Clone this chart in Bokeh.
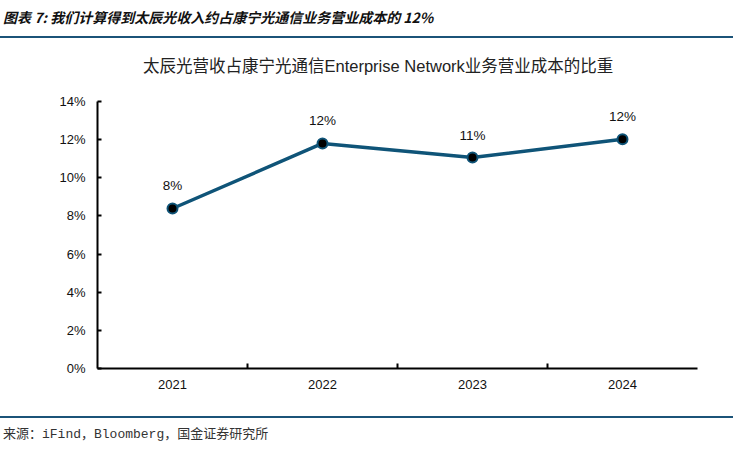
from bokeh.plotting import figure
from bokeh.models import (ColumnDataSource, LabelSet, FixedTicker, NumeralTickFormatter,
                          Range1d, Div)
from bokeh.core.properties import value
from bokeh.layouts import column
from bokeh.embed import file_html
from bokeh.resources import INLINE

years = ["2021", "2022", "2023", "2024"]
share = [0.0839, 0.1180, 0.1106, 0.1202]
share_labels = ["8%", "12%", "11%", "12%"]
y_ticks = [0, 0.02, 0.04, 0.06, 0.08, 0.10, 0.12, 0.14]

header_text = "图表 7: 我们计算得到太辰光收入约占康宁光通信业务营业成本的 12%"
chart_title = "太辰光营收占康宁光通信Enterprise Network业务营业成本的比重"
source_text = "来源：iFind，Bloomberg，国金证券研究所"

LINE_COLOR = "#0F5478"
RULE_COLOR = "#1B5378"
W = 733

xpos = [i + 0.5 for i in range(len(years))]
src = ColumnDataSource(dict(x=xpos, y=share, lab=share_labels))

p = figure(width=W, height=336, output_backend="svg", toolbar_location=None,
           x_range=Range1d(0, len(years)), y_range=Range1d(0, 0.14),
           min_border_left=97, min_border_right=36, min_border_top=21,
           min_border_bottom=48, frame_width=600, frame_height=267)
p.outline_line_color = None
p.background_fill_color = "white"
p.border_fill_color = "white"
p.xgrid.grid_line_color = None
p.ygrid.grid_line_color = None

p.line("x", "y", source=src, line_color=LINE_COLOR, line_width=3.5)
p.scatter("x", "y", source=src, size=10, fill_color="black",
          line_color=LINE_COLOR, line_width=2)
p.add_layout(LabelSet(x="x", y="y", text="lab", source=src, y_offset=15,
                      text_align="center", text_baseline="bottom",
                      text_font_size=value("13.5px"), text_font=value("Liberation Sans"),
                      text_color=value("#111111")))

# x axis: labels at category centres, ticks at boundaries
p.xaxis.ticker = FixedTicker(ticks=xpos, minor_ticks=list(range(1, len(years))))
p.xaxis.major_label_overrides = {x: y for x, y in zip(xpos, years)}
p.xaxis.major_tick_line_color = None
p.xaxis.minor_tick_in = 5
p.xaxis.minor_tick_out = 0
p.xaxis.minor_tick_line_color = "black"
p.xaxis.minor_tick_line_width = 2
p.xaxis.axis_line_width = 2
p.xaxis.axis_line_color = "black"
p.xaxis.major_label_standoff = 5
p.xaxis.major_label_text_font = "Liberation Sans"
p.xaxis.major_label_text_font_size = "13px"
p.xaxis.major_label_text_color = "#111111"

p.yaxis.ticker = FixedTicker(ticks=y_ticks, minor_ticks=[])
p.yaxis.formatter = NumeralTickFormatter(format="0%")
p.yaxis.major_tick_in = 4
p.yaxis.major_tick_out = 0
p.yaxis.major_tick_line_width = 2
p.yaxis.major_tick_line_color = "black"
p.yaxis.axis_line_width = 2
p.yaxis.axis_line_color = "black"
p.yaxis.major_label_standoff = 12
p.yaxis.major_label_text_font = "Liberation Sans"
p.yaxis.major_label_text_font_size = "13px"
p.yaxis.major_label_text_color = "#111111"

header = Div(text=(
    f'<div style="width:{W}px;height:29px;padding-top:7px;border-bottom:2px solid {RULE_COLOR};'
    'font-family:\'Noto Sans CJK SC\';font-weight:bold;font-style:italic;'
    f'font-size:14px;line-height:20px;padding-left:3px;box-sizing:content-box;color:#111;'
    f'white-space:nowrap;">{header_text}</div>'
    f'<div style="height:24px;padding-top:18px;padding-left:143px;'
    'font-family:\'Liberation Sans\',\'Noto Sans CJK SC\';font-size:16.5px;line-height:20px;'
    f'color:#222;white-space:nowrap;">{chart_title}</div>'),
    width=W, height=80, margin=0)

footer = Div(text=(
    f'<div style="width:{W}px;height:24px;border-top:2px solid {RULE_COLOR};'
    'font-family:\'Liberation Mono\',\'Noto Sans CJK SC\';padding-left:3px;'
    f'font-size:13px;line-height:14px;padding-top:10px;color:#333;white-space:nowrap;">{source_text}</div>'),
    width=W, height=36, margin=0)

layout = column(header, p, footer, spacing=0)
open("out.html", "w").write(file_html(layout, INLINE))
